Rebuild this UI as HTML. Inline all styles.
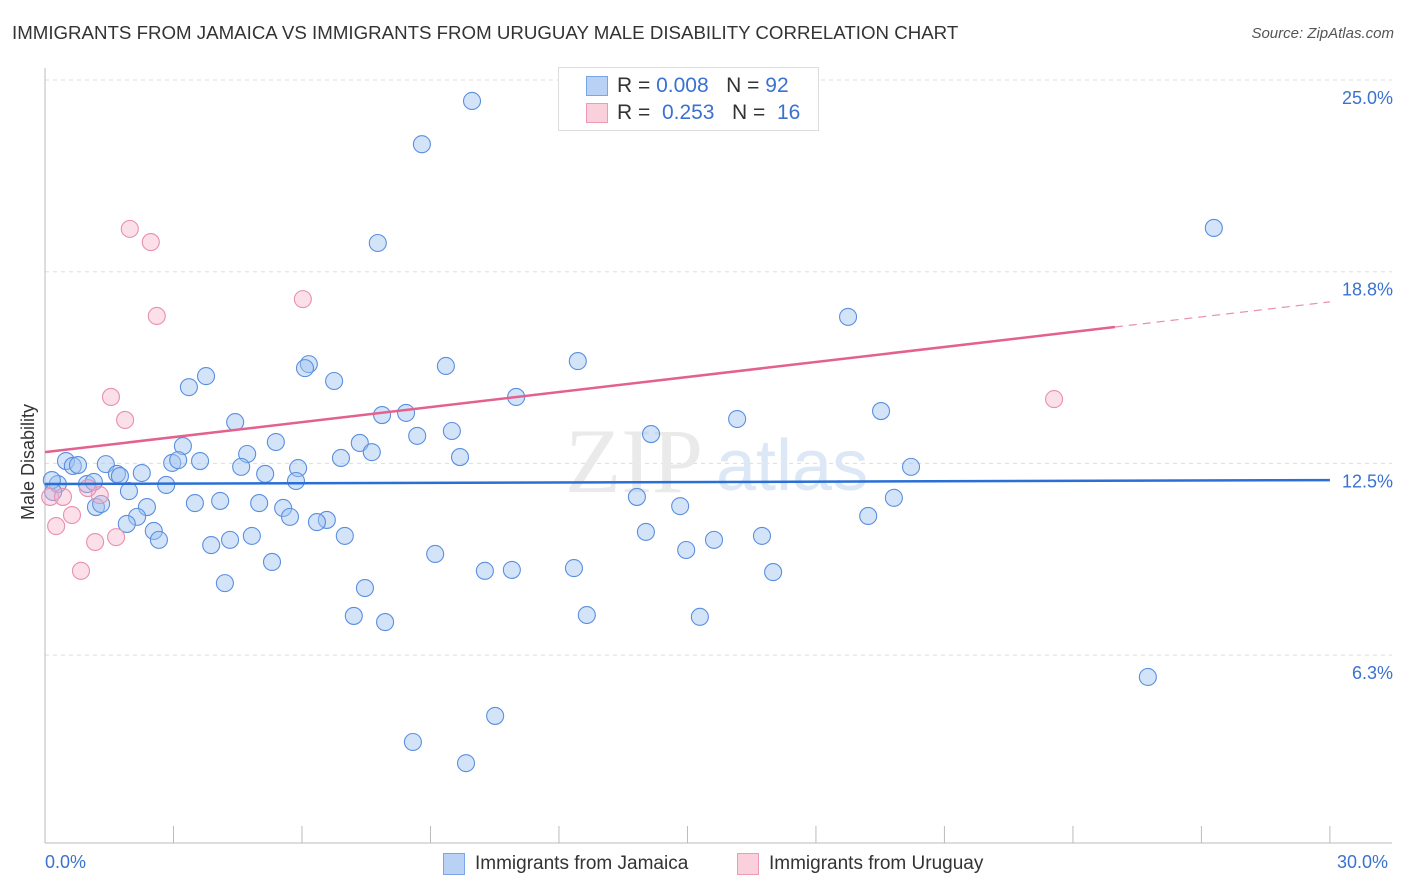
<!DOCTYPE html>
<html><head><meta charset="utf-8"><style>
body{margin:0;background:#fff;font-family:"Liberation Sans",sans-serif;}
#wrap{position:relative;width:1406px;height:892px;overflow:hidden;}
.t{position:absolute;white-space:nowrap;}
</style></head><body>
<div id="wrap">
<div class="t" style="left:12px;top:22px;font-size:18.7px;color:#333;">IMMIGRANTS FROM JAMAICA VS IMMIGRANTS FROM URUGUAY MALE DISABILITY CORRELATION CHART</div>
<div class="t" style="right:12px;top:25px;font-size:15px;color:#555;font-style:italic;">Source: ZipAtlas.com</div>
<svg id="svg" width="1406" height="892" style="position:absolute;left:0;top:0"></svg>
</div>
<script>
const blueX=[9.97,8.80,7.77,27.29,18.75,12.44,9.36,6.16,6.07,3.76,3.36,6.75,11.00,19.52,8.43,7.87,4.44,16.16,8.69,9.50,14.15,5.39,3.22,7.35,7.63,4.72,2.97,3.11,3.62,6.91,9.69,4.58,5.91,20.22,0.49,0.65,1.42,0.77,2.26,1.68,1.75,5.14,5.86,2.83,0.30,0.16,0.98,1.14,1.96,0.19,13.82,19.82,3.50,4.09,5.00,2.38,1.19,1.31,14.83,5.56,2.15,5.72,6.58,6.35,1.91,19.22,2.54,2.66,14.03,7.00,4.83,3.88,4.32,16.74,15.62,14.97,9.11,5.30,10.27,10.90,12.35,17.00,4.20,7.47,7.21,7.94,12.65,15.29,25.75,10.51,8.59,9.83];
const blueY=[24.87,23.46,20.24,20.73,17.83,16.39,16.23,16.29,16.16,15.90,15.54,15.74,15.22,14.76,14.70,14.63,14.40,14.50,13.95,14.11,14.01,13.75,13.62,13.72,13.42,13.36,13.07,13.16,13.13,13.23,13.26,12.94,12.90,12.94,13.13,12.97,13.03,13.00,12.74,12.71,12.64,12.71,12.48,12.35,12.38,12.51,12.38,12.45,12.15,12.12,11.96,11.93,11.76,11.83,11.76,11.63,11.63,11.73,11.66,11.60,11.31,11.31,11.21,11.14,11.08,11.34,10.85,10.56,10.82,10.69,10.69,10.39,10.56,10.69,10.56,10.23,10.10,9.84,9.55,9.58,9.64,9.51,9.15,8.99,8.08,7.88,8.11,8.05,6.09,4.82,3.97,3.28];
const pinkX=[1.98,2.47,2.61,6.02,1.54,1.87,23.56,0.12,0.42,1.28,1.00,0.63,0.26,1.17,1.66,0.84];
const pinkY=[20.70,20.27,17.86,18.41,15.22,14.47,15.15,11.96,11.96,12.02,12.25,11.37,11.01,10.49,10.65,9.55];
const blueTrend=[[0,12.38],[30,12.51]];
const pinkTrend=[[0,13.42],[24.98,17.50],[30,18.32]];
const yTicks=[25,18.75,12.5,6.25];
const yTickLabels=["25.0%","18.8%","12.5%","6.3%"];
const xTicks=[0,3,6,9,12,15,18,21,24,27,30];
const X=v=>45+v*42.83;
const Y=v=>97+(25-v)*30.67;
const NS="http://www.w3.org/2000/svg";
const svg=document.getElementById('svg');
function mk(tag,attrs){const e=document.createElementNS(NS,tag);for(const k in attrs)e.setAttribute(k,attrs[k]);svg.appendChild(e);return e;}
yTicks.forEach((v,i)=>{
 const g=mk('line',{x1:45,x2:1392,y1:Y(v)-17,y2:Y(v)-17,stroke:'#ddd','stroke-dasharray':'4,4'});
 
 
 const t=mk('text',{x:1393,y:Y(v)+7,'text-anchor':'end','font-size':18,fill:'#3a72d0','font-family':'Liberation Sans'});
 t.textContent=yTickLabels[i];
 
 
});
const ax=mk('line',{x1:45,x2:45,y1:68,y2:843,stroke:'#bbb'});


const bx=mk('line',{x1:45,x2:1392,y1:843,y2:843,stroke:'#bbb'});


xTicks.forEach(v=>{
 const l=mk('line',{x1:X(v),x2:X(v),y1:826,y2:843,stroke:'#bbb'});
 
 
});
const wm=mk('text',{x:634,y:492,'text-anchor':'middle','font-size':92,fill:'#eaeaea','font-family':'Liberation Serif'});
wm.textContent='ZIP';


const wm2=mk('text',{x:716,y:490,'font-size':72,fill:'#dde8f6','font-family':'Liberation Sans'});
wm2.textContent='atlas';


blueX.forEach((x,i)=>{
 const c=mk('circle',{cx:X(x),cy:Y(blueY[i]),r:8.5,fill:'rgba(160,195,240,0.45)',stroke:'#5a8fe0','stroke-width':1.1});
 
 
});
pinkX.forEach((x,i)=>{
 const c=mk('circle',{cx:X(x),cy:Y(pinkY[i]),r:8.5,fill:'rgba(245,175,200,0.4)',stroke:'#e890ad','stroke-width':1.1});
 
 
});
const bt=mk('line',{x1:X(blueTrend[0][0]),y1:Y(blueTrend[0][1]),x2:X(blueTrend[1][0]),y2:Y(blueTrend[1][1]),stroke:'#2a6fd6','stroke-width':2.5});


const pt=mk('line',{x1:X(pinkTrend[0][0]),y1:Y(pinkTrend[0][1]),x2:X(pinkTrend[1][0]),y2:Y(pinkTrend[1][1]),stroke:'#e4608e','stroke-width':2.5});


const pd=mk('line',{x1:X(pinkTrend[1][0]),y1:Y(pinkTrend[1][1]),x2:X(pinkTrend[2][0]),y2:Y(pinkTrend[2][1]),stroke:'#e890ad','stroke-width':1.2,'stroke-dasharray':'8,6'});


</script>
<div class="t" style="left:18px;top:520px;transform:rotate(-90deg);transform-origin:0 0;font-size:18px;color:#333;">Male Disability</div>
<div class="t" style="left:45px;top:852px;font-size:18px;color:#3a72d0;">0.0%</div>
<div class="t" style="left:1337px;top:852px;font-size:18px;color:#3a72d0;">30.0%</div>
<div style="position:absolute;left:558px;top:67px;width:259px;height:62px;border:1px solid #ddd;background:#fff;">
 <div style="position:absolute;left:27px;top:8px;width:20px;height:18px;background:#b9d1f5;border:1px solid #7aa5e8;"></div>
 <div class="t" style="left:58px;top:6px;font-size:21px;color:#333;">R = <span style="color:#3a72d0">0.008</span>&nbsp;&nbsp;&nbsp;N = <span style="color:#3a72d0">92</span></div>
 <div style="position:absolute;left:27px;top:35px;width:20px;height:18px;background:#fbd0dd;border:1px solid #ee9ab5;"></div>
 <div class="t" style="left:58px;top:33px;font-size:21px;color:#333;">R =&nbsp; <span style="color:#3a72d0">0.253</span>&nbsp;&nbsp;&nbsp;N =&nbsp; <span style="color:#3a72d0">16</span></div>
</div>
<div style="position:absolute;left:443px;top:853px;width:20px;height:20px;background:#b9d1f5;border:1px solid #7aa5e8;"></div>
<div class="t" style="left:475px;top:853px;font-size:19px;color:#333;">Immigrants from Jamaica</div>
<div style="position:absolute;left:737px;top:853px;width:20px;height:20px;background:#fbd0dd;border:1px solid #ee9ab5;"></div>
<div class="t" style="left:769px;top:853px;font-size:19px;color:#333;">Immigrants from Uruguay</div>
</body></html>
